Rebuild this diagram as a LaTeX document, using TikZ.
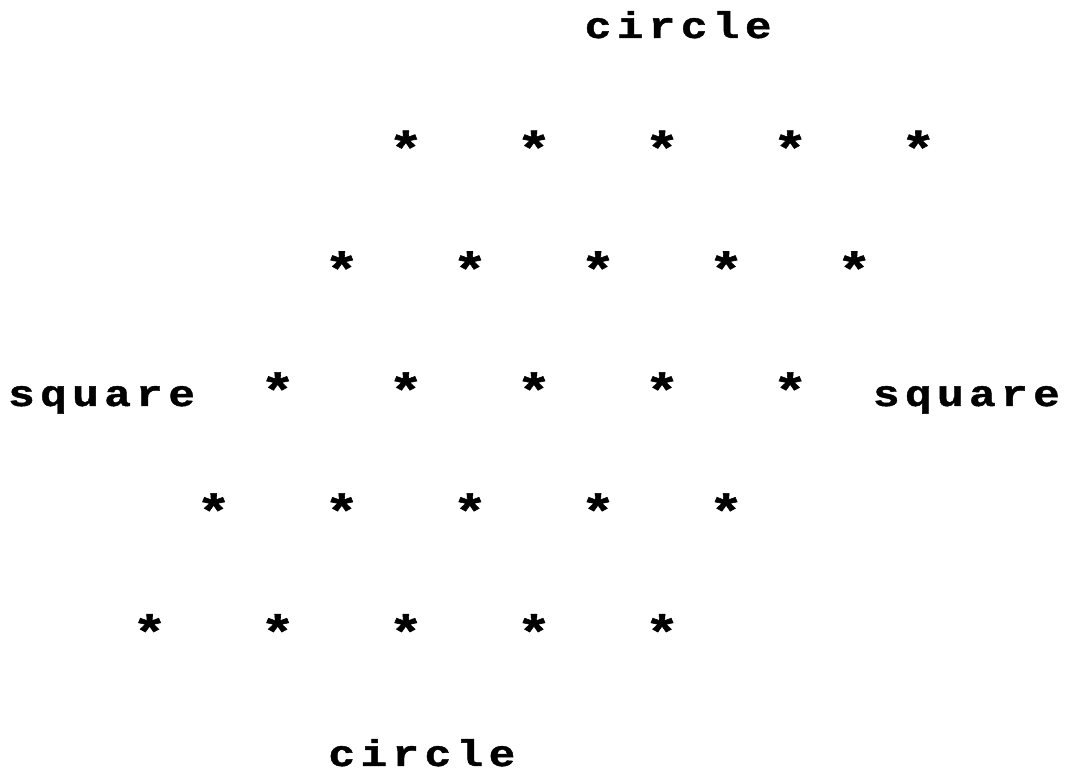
\documentclass[tikz,border=0pt]{standalone}
\usepackage{fontspec}
\newfontfamily\cellfont{Liberation Mono}[FakeStretch=1.2,LetterSpace=14.6,BoldFeatures={FakeBold=1.2}]
\begin{document}
\begin{tikzpicture}[x=1pt,y=1pt,
                    every node/.style={inner sep=0pt,anchor=base west},
                    word/.style={font=\cellfont\bfseries\fontsize{37pt}{44pt}\selectfont},
                    ast/.style={font=\cellfont\bfseries\fontsize{48pt}{56pt}\selectfont}]
% ---- 字符格：列宽 \cw，文字起点 \xo，星号起点 \xs（y 向上） ----
\def\cw{32.03}\def\xo{7.95}\def\xs{3.95}
% ---- 标签 ----
\node[word] (circtop) at ({\xo+18*\cw},735) {circle};
\node[word] (sqleft)  at ({\xo},367)        {square};
\node[word] (sqright) at ({\xo+27*\cw},367) {square};
\node[word] (circbot) at ({\xo+10*\cw},7)   {circle};
% ---- 星号：每行 5 个，间隔 4 列，逐行左移 2 列 ----
\foreach \r/\c in {1/12,2/10,3/8,4/6,5/4}
  \foreach \i in {0,...,4}
    \node[ast] (s\r\i) at ({\xs+(\c+4*\i)*\cw},{607.6-120.9*(\r-1)}) {*};
% ---- 画布 ----
\pgfresetboundingbox
\path[use as bounding box] (0,0) rectangle (1066,773);
\end{tikzpicture}
\end{document}
